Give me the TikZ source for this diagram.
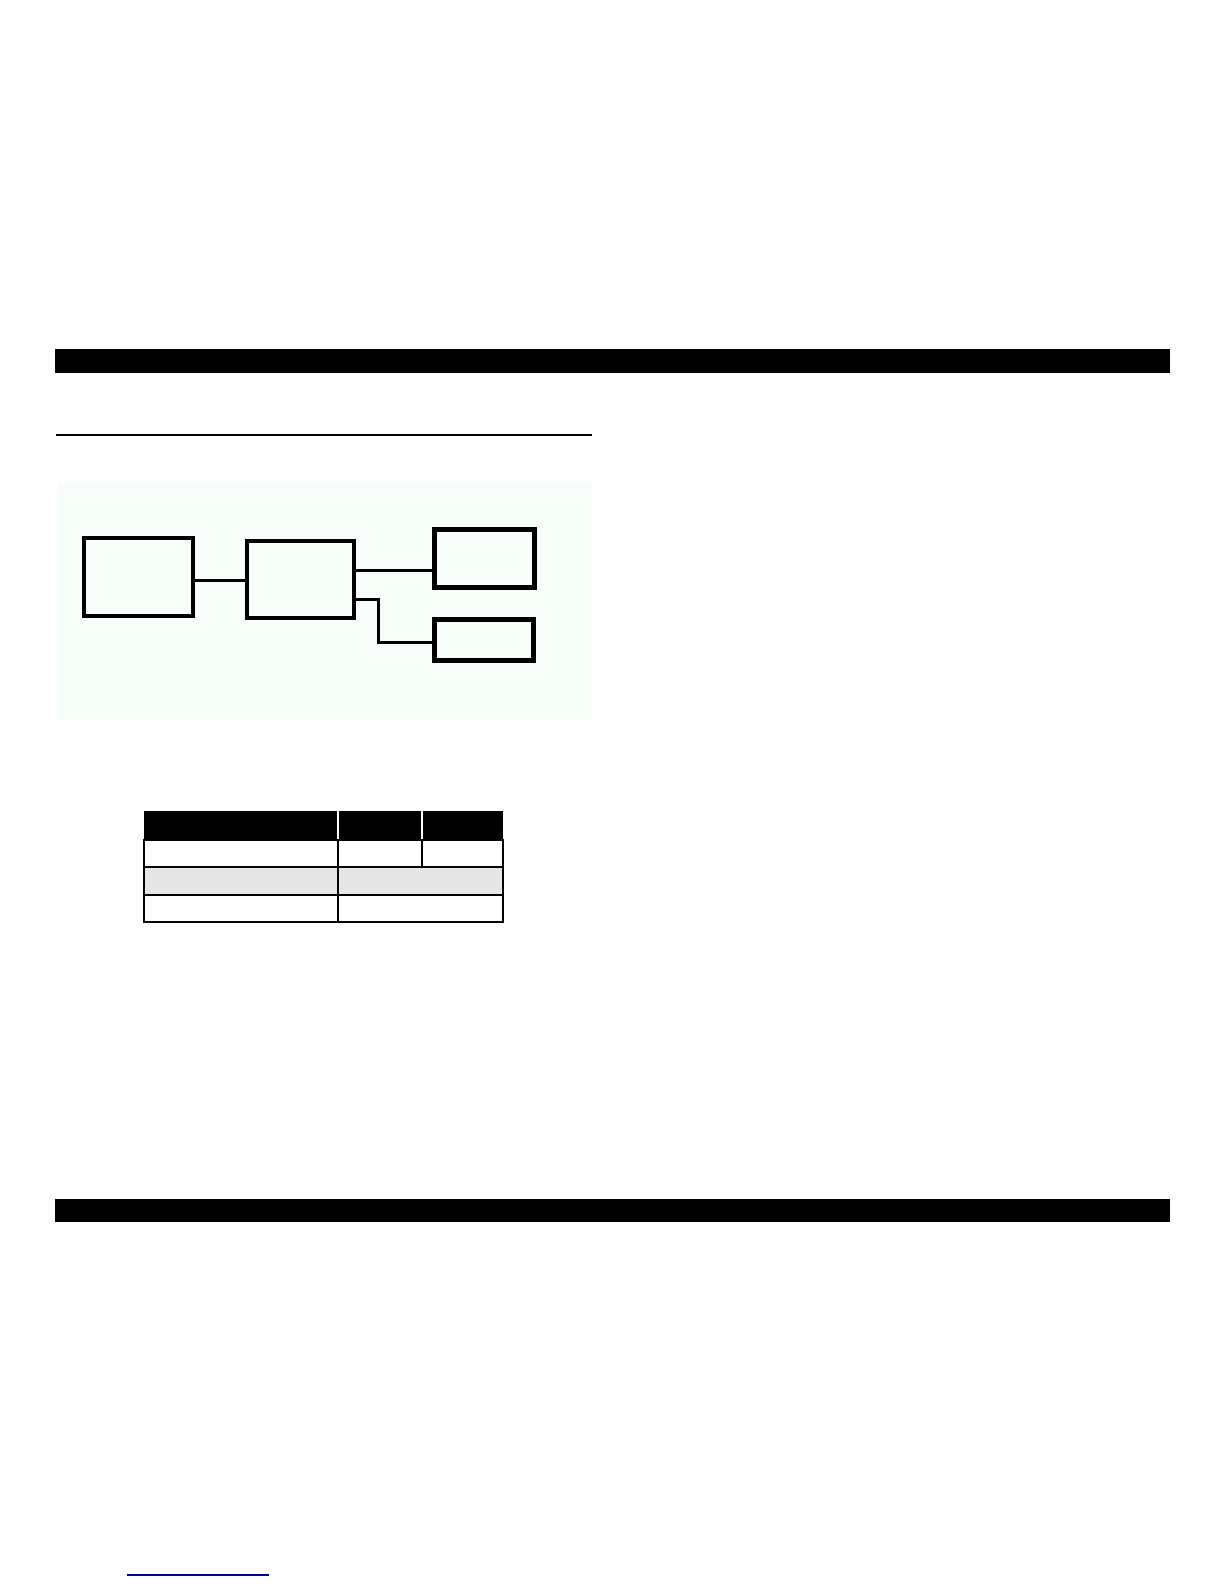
\documentclass[tikz,border=0pt]{standalone}
\usetikzlibrary{positioning}
\definecolor{panelgreen}{RGB}{247,253,249}
\definecolor{rowgray}{RGB}{230,230,230}
\definecolor{linkblue}{RGB}{0,0,150}
\begin{document}
\begin{tikzpicture}[%
    x=0.5pt, y=-0.5pt,          % One unit is one pixel of the page, top-down
    ]
% -------------------------------------------------
% A few box styles
\tikzset{
  base/.style={draw, inner sep=0pt, outer sep=0pt},
  unit/.style={base, line width=2pt},
  port/.style={base, line width=2.5pt},
  % Connector line styles
  link/.style={draw, line width=1.5pt},
  bar/.style={fill=black},
  grid/.style={draw, line width=0.6pt}
}
\useasboundingbox (0,0) rectangle (1224,1584);
% -------------------------------------------------
% Page furniture
\fill[bar] (55,349) rectangle (1170,373);
\fill[bar] (55,1199) rectangle (1170,1222);
\draw[line width=0.7pt] (56,435) -- (592,435);
\draw[linkblue, line width=0.6pt] (127,1575) -- (269,1575);
\fill[panelgreen] (58,483) rectangle (592,720);
% -------------------------------------------------
% Start by placing the boxes
\node [unit, minimum width=54.5pt, minimum height=39pt] (host) at (138.5,577) {};
\node [unit, minimum width=53.5pt, minimum height=38.5pt] (ctrl) at (300.5,579.5) {};
\node [port, minimum width=50pt, minimum height=29pt] (upper) at (484.5,558.5) {};
\node [port, minimum width=49.5pt, minimum height=20.5pt] (lower) at (484,640) {};
\coordinate (elbow) at (378,642);

\draw[link] (host.east |- 0,580) -- (ctrl.west |- 0,580);	%Host,Controller
\draw[link] (ctrl.east |- 0,570) -- (upper.west |- 0,570);	%Controller,Upper
\draw[link] (ctrl.east |- 0,599) -| (elbow) -- (lower.west |- elbow);	%Controller,Lower

% -------------------------------------------------
% The table below the diagram
\fill[black] (144,811) rectangle (503,840);
\fill[rowgray] (144,867) rectangle (503,895);
\draw[white, line width=0.6pt] (338,811) -- (338,840) (422,811) -- (422,840);
\draw[grid] (144,840) rectangle (503,922);
\draw[grid] (144,867) -- (503,867) (144,895) -- (503,895);
\draw[grid] (338,840) -- (338,922) (422,840) -- (422,867);
% -------------------------------------------------
\end{tikzpicture}
\end{document}
